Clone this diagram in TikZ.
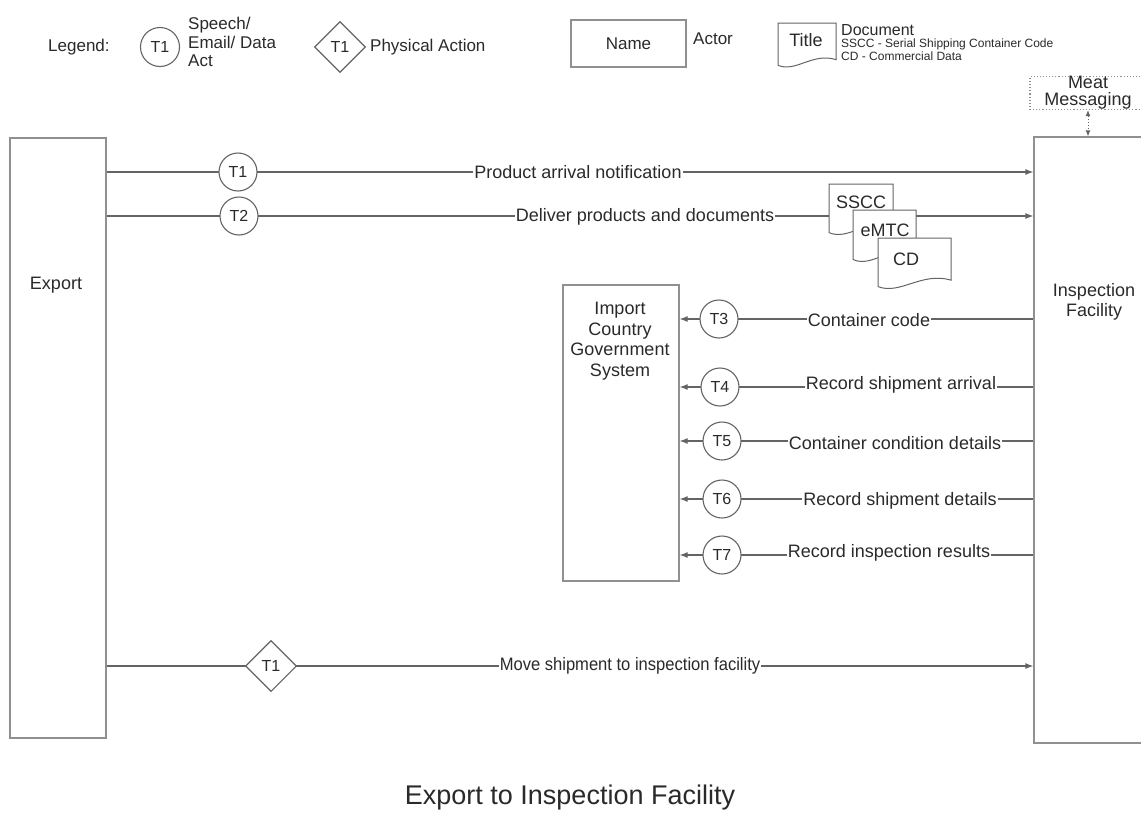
\documentclass[tikz,border=0pt]{standalone}
\usepackage{fontspec}
\setmainfont{Liberation Sans}
\usetikzlibrary{arrows.meta,shapes.geometric}
\pgfdeclarelayer{bg}
\pgfsetlayers{bg,main}
\definecolor{linec}{HTML}{646464}
\definecolor{boxc}{HTML}{909090}
\definecolor{txtc}{HTML}{2A2A2A}
\newcommand\fs[2]{\fontsize{#1}{#2}\selectfont}
% document shape: name, x0, y0, x1, y1, text, text x, text y
\newcommand\docshape[8]{%
  \draw[docline] (#2,#3) -- (#4,#3) -- (#4,{#3+0.78*(#5-#3)})
    .. controls ({#2+0.6*(#4-#2)},{#3+0.62*(#5-#3)}) and ({#2+0.3*(#4-#2)},{#5+0.06*(#5-#3)})
    .. (#2,{#3+0.9*(#5-#3)}) -- cycle;
  \node[doctext] (#1) at (#7,#8) {#6};}
\tikzset{
  every node/.style={text=txtc},
  lbl/.style={font=\fs{18}{20}, fill=white, inner sep=1pt},
  act/.style={circle, draw=linec, line width=1.1pt, fill=white, minimum size=38pt, inner sep=0pt, font=\fs{16}{18}},
  phys/.style={diamond, draw=linec, line width=1.1pt, fill=white, minimum width=51pt, minimum height=51pt, inner sep=0pt, font=\fs{16}{18}},
  actor/.style={draw=boxc, line width=1.2pt, fill=white, inner sep=0pt},
  flow/.style={draw=linec, line width=1.2pt, -{Latex[length=8pt,width=6pt]}},
  docline/.style={draw=linec, line width=1pt, fill=white},
  doctext/.style={font=\fs{18}{20}, inner sep=0pt},
  plain/.style={font=\fs{18}{20}, inner sep=0pt},
  leg/.style={font=\fs{17}{19}, inner sep=0pt},
}
\begin{document}
\begin{tikzpicture}[x=1pt,y=-1pt]
\useasboundingbox (0,0) rectangle (1141,830);
\clip (0,0) rectangle (1141,830);
\begin{pgfonlayer}{bg}
\fill[white] (0,0) rectangle (1141,830);
\end{pgfonlayer}

% ---------- legend ----------
\node[leg, anchor=west] (legend) at (48,47) {Legend:};
\node[act, minimum size=39pt] (legcirc) at (160,47) {T1};
\node[leg, anchor=west, align=left, font=\fs{17}{18.5}] (legspeech) at (188,42) {Speech/\\Email/ Data\\Act};
\node[phys] (legdiam) at (340,47) {T1};
\node[leg, anchor=west] (legphys) at (370,47) {Physical Action};
\node[actor, minimum width=115pt, minimum height=47pt, font=\fs{17}{19}] (legname) at (628.5,43.5) {Name};
\node[leg, anchor=west] (legactor) at (693,39) {Actor};
\docshape{legdoc}{778}{23}{836}{70}{Title}{806}{40}
\node[leg, anchor=west, font=\fs{16}{18}] (legdocument) at (841,30) {Document};
\node[leg, anchor=west, font=\fs{12}{13}] (legsscc) at (841,44) {SSCC - Serial Shipping Container Code};
\node[leg, anchor=west, font=\fs{12}{13}] (legcd) at (841,56) {CD - Commercial Data};

% ---------- actors ----------
\node[draw=boxc, dotted, line width=1.1pt, fill=white, minimum width=116pt, minimum height=30pt,
      inner sep=0pt, align=center, font=\fs{18}{17}] (meat) at (1088,93) {Meat\\Messaging};
\node[actor, minimum width=96pt, minimum height=600pt] (export) at (58,438) {};
\node[plain] (exportlbl) at (56,285) {Export};
\node[actor, minimum width=116pt, minimum height=606pt] (insp) at (1092,440) {};
\node[plain, align=center, font=\fs{18}{19.5}] (insplbl) at (1094,302) {Inspection\\Facility};
\node[actor, minimum width=116pt, minimum height=296pt] (icgs) at (621,433) {};
\node[plain, align=center, anchor=north, font=\fs{18}{20.5}] (icgslbl) at (620,302) {Import\\Country\\Government\\System};

% ---------- transactions ----------
\node[act] (t1) at (238,172) {T1};
\node[lbl] (l1) at (578,172) {Product arrival notification};
\node[act] (t2) at (239,216) {T2};
\node[lbl] (l2) at (645,217) {Deliver products and documents};
\docshape{sscc}{829}{184}{893}{238}{SSCC}{861}{202}
\docshape{emtc}{853}{210}{916}{265}{eMTC}{885}{230}
\docshape{cd}{878}{238}{951}{292}{CD}{906}{259}

\node[act] (t3) at (719,319) {T3};
\node[lbl] (l3) at (869,320) {Container code};
\node[act] (t4) at (720,387) {T4};
\node[lbl] (l4) at (901,385) {Record shipment arrival};
\node[act] (t5) at (722,441) {T5};
\node[lbl] (l5) at (895,443) {Container condition details};
\node[act] (t6) at (722,499) {T6};
\node[lbl] (l6) at (900,501) {Record shipment details};
\node[act] (t7) at (722,555) {T7};
\node[lbl] (l7) at (889,553) {Record inspection results};

\node[phys] (p1) at (271,666) {T1};
\node[lbl, xscale=0.92] (lp1) at (630,666) {Move shipment to inspection facility};

% ---------- title ----------
\node[font=\fs{27}{30}, inner sep=0pt] (title) at (570,798) {Export to Inspection Facility};

% ---------- connectors ----------
\begin{pgfonlayer}{bg}
\draw[flow] (export.east |- t1) -- (insp.west |- t1);
\draw[flow] (export.east |- t2) -- (insp.west |- t2);
\draw[flow] (insp.west |- t3) -- (icgs.east |- t3);
\draw[flow] (insp.west |- t4) -- (icgs.east |- t4);
\draw[flow] (insp.west |- t5) -- (icgs.east |- t5);
\draw[flow] (insp.west |- t6) -- (icgs.east |- t6);
\draw[flow] (insp.west |- t7) -- (icgs.east |- t7);
\draw[flow] (export.east |- p1) -- (insp.west |- p1);
\end{pgfonlayer}
\draw[draw=linec, line width=1pt, dotted, {Latex[length=6pt,width=5pt]}-{Latex[length=6pt,width=5pt]}]
  (meat.south) -- (meat.south |- insp.north);
\end{tikzpicture}
\end{document}
